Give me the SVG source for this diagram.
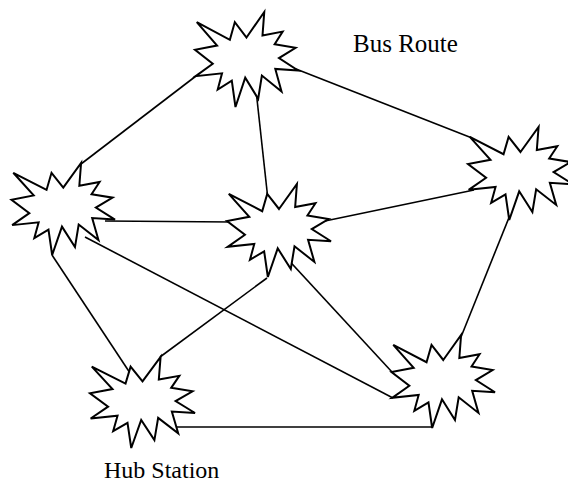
<svg xmlns="http://www.w3.org/2000/svg" xmlns:xlink="http://www.w3.org/1999/xlink" width="568" height="491" viewBox="0 0 568 491">
<style>
.star{fill:#fff;stroke:#000;stroke-width:2;stroke-linejoin:miter;vector-effect:non-scaling-stroke}
.conn line{stroke:#000;stroke-width:1.6;fill:none}
.lbl{font-family:"Liberation Serif","Times New Roman",serif;fill:#000}
</style>
<defs>
<path id="seal" class="star" d="M108,58 L145.22,0 L141.55,53.25 L183.8,44.57 L167.02,73.15 L210.97,81.37 L176.07,104.75 L216,132.9 L168.37,129.42 L181.45,180.95 L140.2,144.57 L132.47,197.37 L105.32,149.35 L84.85,216 L77.15,156.27 L47.62,176.17 L56.67,139.37 L1.35,145.87 L37.22,117.75 L0,86.15 L46.27,76.17 L3.7,22.95 L73.12,63.2 L83.52,22.95 Z"/>
</defs>
<rect width="568" height="491" fill="#fff"/>
<g id="connectors" class="conn">
<line x1="81" y1="164" x2="196" y2="76"/>
<line x1="296" y1="69" x2="472" y2="138"/>
<line x1="256" y1="90" x2="268" y2="200"/>
<line x1="105" y1="221" x2="232" y2="222"/>
<line x1="325" y1="221" x2="474" y2="190"/>
<line x1="510" y1="215" x2="461" y2="337"/>
<line x1="52" y1="255" x2="132" y2="376"/>
<line x1="85" y1="237" x2="393" y2="398"/>
<line x1="270" y1="240" x2="392" y2="372"/>
<line x1="267" y1="278" x2="160" y2="357"/>
<line x1="175" y1="427" x2="432" y2="427"/>
</g>
<g id="node1"><use xlink:href="#seal" transform="translate(195,12) scale(0.4769,0.4398)"/></g>
<g id="node2"><use xlink:href="#seal" transform="translate(11.5,163) scale(0.4792,0.4259)"/></g>
<g id="node3"><use xlink:href="#seal" transform="translate(227,184) scale(0.4815,0.4306)"/></g>
<g id="node4"><use xlink:href="#seal" transform="translate(468,127) scale(0.4861,0.4306)"/></g>
<g id="node5"><use xlink:href="#seal" transform="translate(90,357) scale(0.4861,0.4213)"/></g>
<g id="node6"><use xlink:href="#seal" transform="translate(391.5,335) scale(0.4792,0.4306)"/></g>
<g id="labels">
<text class="lbl" x="353" y="52" font-size="25">Bus Route</text>
<text class="lbl" x="104" y="478" font-size="24">Hub Station</text>
</g>
</svg>
